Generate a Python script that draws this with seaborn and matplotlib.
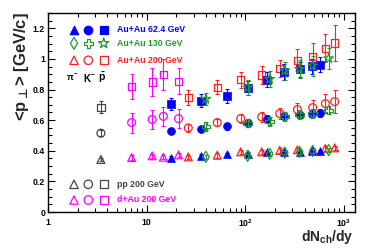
import matplotlib
matplotlib.use("Agg")
import matplotlib.pyplot as plt
import matplotlib.ticker as mticker
import pandas as pd
import seaborn as sns

# ---------------- data ----------------
# pp 200 GeV
dndy_pp = [3.44]
pi_pp, pi_pp_err = [0.343], [0.010]
k_pp, k_pp_err = [0.515], [0.020]
p_pp, p_pp_err = [0.684], [0.040]

# d+Au 200 GeV
dndy_dau = [7.05, 11.4, 14.8, 21.1]
pi_dau, pi_dau_err = [0.356, 0.367, 0.358, 0.373], [0.015, 0.015, 0.015, 0.015]
k_dau, k_dau_err = [0.584, 0.604, 0.625, 0.610], [0.065, 0.060, 0.060, 0.060]
p_dau, p_dau_err = [0.819, 0.849, 0.899, 0.853], [0.082, 0.090, 0.100, 0.085]

# Au+Au 62.4 GeV
dndy_62 = [17.6, 35.5, 65, 107, 166, 248, 357, 481, 579]
pi_62 = [0.354, 0.367, 0.376, 0.382, 0.391, 0.393, 0.393, 0.397, 0.397]
pi_62_err = [0.010] * 9
k_62 = [0.530, 0.541, 0.560, 0.582, 0.606, 0.627, 0.636, 0.643, 0.647]
k_62_err = [0.020, 0.020, 0.022, 0.025, 0.025, 0.025, 0.025, 0.025, 0.025]
p_62 = [0.704, 0.728, 0.758, 0.810, 0.865, 0.914, 0.932, 0.951, 0.962]
p_62_err = [0.040, 0.040, 0.045, 0.045, 0.050, 0.050, 0.050, 0.050, 0.050]

# Au+Au 130 GeV
dndy_130 = [39.9, 106, 177, 252, 357, 484, 703]
pi_130 = [0.360, 0.367, 0.380, 0.388, 0.392, 0.398, 0.404]
pi_130_err = [0.012] * 7
k_130 = [0.560, 0.580, 0.593, 0.625, 0.638, 0.645, 0.665]
k_130_err = [0.025] * 7
p_130 = [0.738, 0.814, 0.868, 0.923, 0.934, 0.956, 1.003]
p_130_err = [0.040, 0.050, 0.050, 0.060, 0.060, 0.065, 0.070]

# Au+Au 200 GeV
dndy_200 = [26.5, 52.1, 90.2, 147, 224, 339, 484, 651, 809]
pi_200 = [0.360, 0.371, 0.393, 0.393, 0.402, 0.406, 0.406, 0.415, 0.419]
pi_200_err = [0.015] * 9
k_200 = [0.549, 0.584, 0.610, 0.621, 0.643, 0.669, 0.682, 0.708, 0.721]
k_200_err = [0.025, 0.025, 0.030, 0.030, 0.035, 0.045, 0.050, 0.060, 0.075]
p_200 = [0.747, 0.814, 0.865, 0.894, 0.938, 0.990, 1.016, 1.070, 1.103]
p_200_err = [0.050, 0.046, 0.052, 0.060, 0.055, 0.072, 0.087, 0.093, 0.117]

x_ticks = [1, 10, 100, 1000]
x_tick_labels = ["1", "10", "$10^{2}$", "$10^{3}$"]

# ---------------- style ----------------
sns.set_style("ticks")
plt.rcParams['font.family'] = ['Liberation Sans', 'DejaVu Sans']
plt.rcParams['font.weight'] = 'bold'
plt.rcParams['mathtext.fontset'] = 'custom'
plt.rcParams['mathtext.rm'] = 'Liberation Sans:bold'
plt.rcParams['mathtext.it'] = 'Liberation Sans:bold'
plt.rcParams['mathtext.bf'] = 'Liberation Sans:bold'
plt.rcParams['mathtext.sf'] = 'DejaVu Sans:bold'

BLUE = '#0000ff'
GREEN = '#22992a'
RED = '#ff2020'
MAG = '#ff00ff'
GRAY = '#444444'

fig = plt.figure(figsize=(3.74, 2.5), dpi=100)
ax = fig.add_axes([48 / 374, 1 - 212 / 250, 307 / 374, 199 / 250])

SIZES = {'^': 32, 'o': 32, 's': 28, 'd': 32, 'P': 38, '*': 52}


def draw(x, y, err, marker, color, filled, z=3):
    ax.errorbar(x, y, yerr=err, fmt='none', ecolor=color, elinewidth=0.8,
                capsize=1.3, capthick=0.8, zorder=z - 0.5)
    df = pd.DataFrame({'x': x, 'y': y})
    sns.scatterplot(data=df, x='x', y='y', ax=ax, marker=marker,
                    s=SIZES[marker], color=color,
                    facecolors=color if filled else 'none',
                    edgecolor=color, linewidth=0.9 if not filled else 0.5,
                    zorder=z, legend=False)


# pp and d+Au
draw(dndy_pp, pi_pp, pi_pp_err, '^', GRAY, False)
draw(dndy_pp, k_pp, k_pp_err, 'o', GRAY, False)
draw(dndy_pp, p_pp, p_pp_err, 's', GRAY, False)
draw(dndy_dau, pi_dau, pi_dau_err, '^', MAG, False)
draw(dndy_dau, k_dau, k_dau_err, 'o', MAG, False)
draw(dndy_dau, p_dau, p_dau_err, 's', MAG, False)
# Au+Au 200
draw(dndy_200, pi_200, pi_200_err, '^', RED, False)
draw(dndy_200, k_200, k_200_err, 'o', RED, False)
draw(dndy_200, p_200, p_200_err, 's', RED, False)
# Au+Au 62.4
draw(dndy_62, pi_62, pi_62_err, '^', BLUE, True, z=4)
draw(dndy_62, k_62, k_62_err, 'o', BLUE, True, z=4)
draw(dndy_62, p_62, p_62_err, 's', BLUE, True, z=4)
# Au+Au 130
draw(dndy_130, pi_130, pi_130_err, 'd', GREEN, False, z=5)
draw(dndy_130, k_130, k_130_err, 'P', GREEN, False, z=5)
draw(dndy_130, p_130, p_130_err, '*', GREEN, False, z=5)

# ---------------- axes ----------------
ax.set_xscale('log')
ax.set_xlim(1, 1300)
ax.set_ylim(0, 1.3)
ax.set_xlabel('')
ax.set_ylabel('')
ax.xaxis.set_major_locator(mticker.FixedLocator(x_ticks))
ax.xaxis.set_major_formatter(mticker.FixedFormatter(x_tick_labels))
ax.xaxis.set_minor_locator(mticker.LogLocator(base=10, subs=range(2, 10), numticks=20))
ax.xaxis.set_minor_formatter(mticker.NullFormatter())
ax.yaxis.set_major_locator(mticker.MultipleLocator(0.2))
ax.yaxis.set_minor_locator(mticker.MultipleLocator(0.05))
ax.yaxis.set_major_formatter(mticker.FuncFormatter(lambda v, p: f'{v:g}'))
ax.tick_params(which='both', direction='in', top=True, right=True,
               width=0.8, labelsize=6.3, colors='black')
ax.tick_params(which='major', length=5, pad=2)
ax.tick_params(axis='x', which='major', pad=4)
ax.tick_params(which='minor', length=2.8)
for sp in ax.spines.values():
    sp.set_linewidth(1.0)
    sp.set_color('black')
    sp.set_visible(True)

fig.text(22 / 374, 1 - 12 / 250, '<p$_{\\mathsf{\\bot}}$> [GeV/c]', rotation=90,
         ha='center', va='top', fontsize=12, fontweight='bold')
fig.text(353 / 374, 1 - 241.5 / 250, 'dN$_{ch}$/dy', ha='right',
         va='baseline', fontsize=10, fontweight='bold')

# ---------------- legend (text style) ----------------
cols = [(74 - 48) / 307, (88.3 - 48) / 307, (103.7 - 48) / 307]
tx = (116.7 - 48) / 307
rows = [
    ((212 - 30) / 199, ['^', 'o', 's'], BLUE, True, 'Au+Au 62.4 GeV'),
    ((212 - 43.3) / 199, ['d', 'P', '*'], GREEN, False, 'Au+Au 130 GeV'),
    ((212 - 60.3) / 199, ['^', 'o', 's'], RED, False, 'Au+Au 200 GeV'),
    ((212 - 184.3) / 199, ['^', 'o', 's'], GRAY, False, 'pp 200 GeV'),
    ((212 - 200) / 199, ['^', 'o', 's'], MAG, False, 'd+Au 200 GeV'),
]
for yy, mks, c, filled, label in rows:
    for xx, m in zip(cols, mks):
        ax.scatter([xx], [yy], transform=ax.transAxes, marker=m,
                   s=SIZES[m] * 1.15, facecolors=c if filled else 'none',
                   edgecolors=c, linewidths=0.9, clip_on=False, zorder=6)
    ax.text(tx, yy, label, transform=ax.transAxes, ha='left', va='center',
            fontsize=6.3, fontweight='bold', color=c)

yp = (212 - 78) / 199
ax.text((72.7 - 48) / 307, yp, '$\\pi^{-}$', transform=ax.transAxes,
        ha='center', va='center', fontsize=6.3, color='black')
ax.text((89 - 48) / 307, yp, 'K$^{-}$', transform=ax.transAxes,
        ha='center', va='center', fontsize=7, fontweight='bold', color='black')
ax.text((101.7 - 48) / 307, yp, '$\\bar{p}$', transform=ax.transAxes,
        ha='center', va='center', fontsize=7.5, color='black')

fig.savefig('out.png', dpi=100)
